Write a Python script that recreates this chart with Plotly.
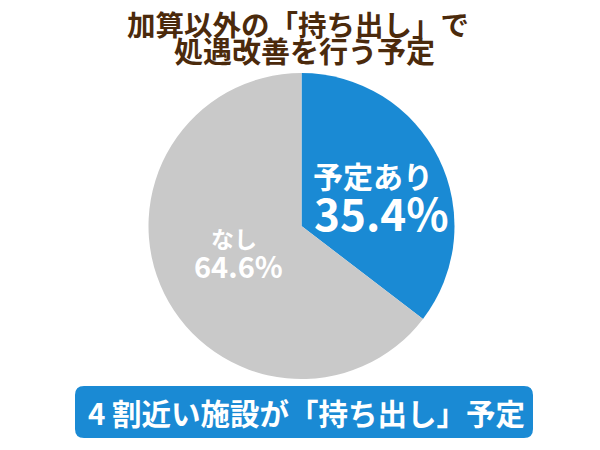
import plotly.graph_objects as go

labels = ["予定あり", "なし"]
values = [35.4, 64.6]
colors = ["#1a8ad4", "#c9c9c9"]
title_lines = ["加算以外の「持ち出し」で", "処遇改善を行う予定"]
banner_text = "4 割近い施設が「持ち出し」予定"

W, H = 600, 450
FONT = "Noto Sans CJK JP"

fig = go.Figure()
fig.add_trace(go.Pie(
    labels=labels, values=values, sort=False, direction="clockwise", rotation=0,
    marker=dict(colors=colors, line=dict(width=0)),
    textinfo="none", hoverinfo="label+percent", showlegend=False,
    domain=dict(x=[148/W, 455/W], y=[1-379/H, 1-73/H]),
))

def px(x, y):
    return x / W, 1 - y / H

ann = []
def add(xp, yp, text, size, color="white"):
    x, y = px(xp, yp)
    ann.append(dict(x=x, y=y, text=f"<b>{text}</b>", showarrow=False,
                    xref="paper", yref="paper", xanchor="center", yanchor="middle",
                    font=dict(family=FONT, size=size, color=color)))

# title
add(298, 23, title_lines[0], 28.5, "#4b2a0c")
add(304, 50, title_lines[1], 29, "#4b2a0c")
# slice labels
add(373, 175, labels[0], 30)
add(381, 212, f"{values[0]:.1f}%", 44)
add(234, 238, labels[1], 23)
add(238, 265, f"{values[1]:.1f}%", 29)
# banner
add(306, 412, banner_text, 29.5)

# rounded rectangle banner
x0, x1, y0, y1, r = 75, 533, 386, 438, 9
def P(x, y):
    return f"{x/W:.5f},{1-y/H:.5f}"
path = (f"M {P(x0+r, y0)} L {P(x1-r, y0)} Q {P(x1, y0)} {P(x1, y0+r)} "
        f"L {P(x1, y1-r)} Q {P(x1, y1)} {P(x1-r, y1)} L {P(x0+r, y1)} "
        f"Q {P(x0, y1)} {P(x0, y1-r)} L {P(x0, y0+r)} Q {P(x0, y0)} {P(x0+r, y0)} Z")

fig.update_layout(
    width=W, height=H, margin=dict(l=0, r=0, t=0, b=0),
    paper_bgcolor="white", plot_bgcolor="white",
    annotations=ann,
    shapes=[dict(type="path", path=path, xref="paper", yref="paper",
                 fillcolor="#1a8ad4", line=dict(width=0), layer="below")],
)
fig.write_html("out.html", config={"displayModeBar": False},
               post_script="document.body.style.margin='0';")
